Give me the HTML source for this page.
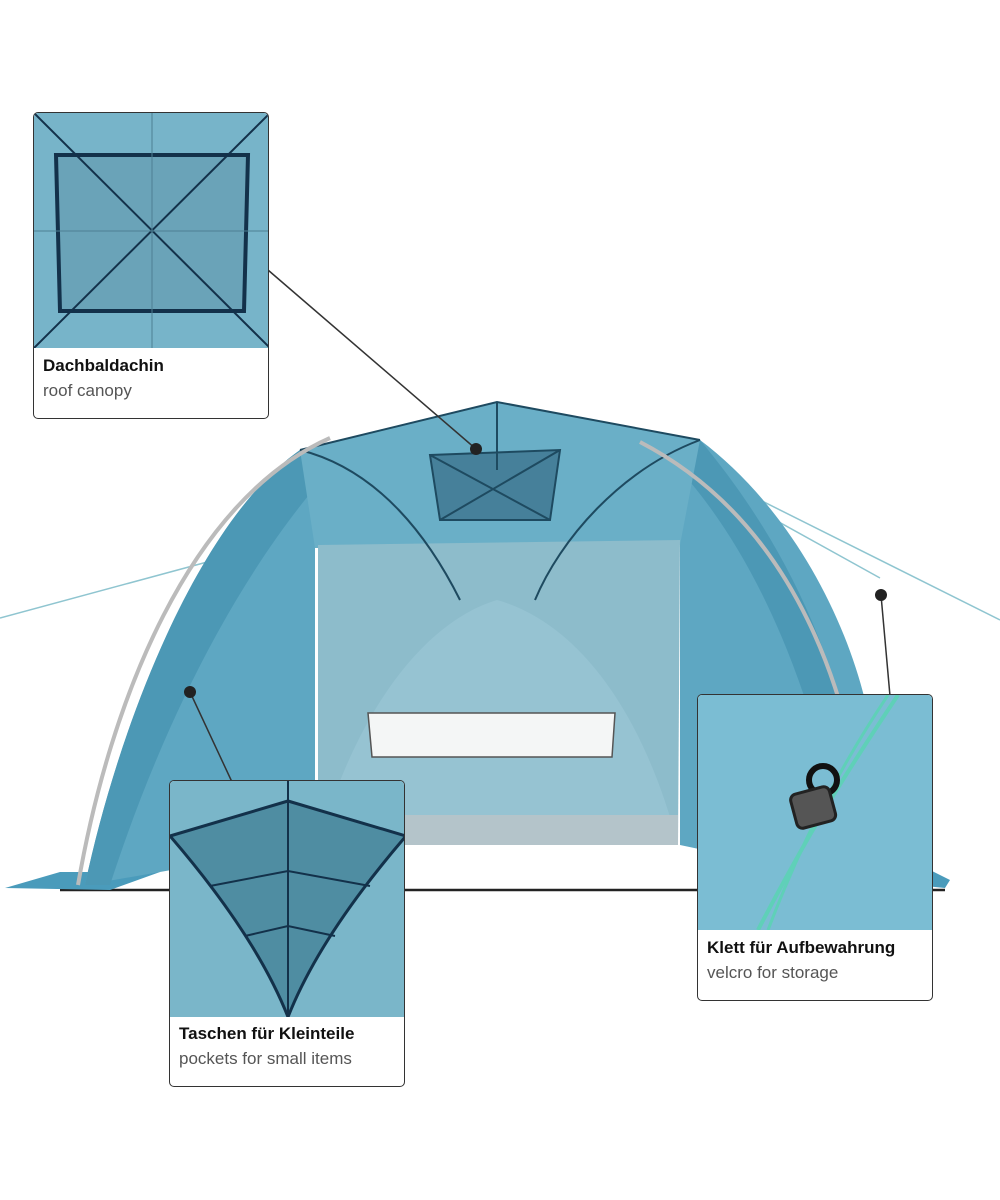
<!DOCTYPE html>
<html><head><meta charset="utf-8"><style>
html,body{margin:0;padding:0;background:#fff;}
.wrap{position:relative;width:1000px;height:1200px;overflow:hidden;font-family:"Liberation Sans",sans-serif;}
.box{position:absolute;border:1.5px solid #333;border-radius:5px;background:#fff;overflow:hidden;box-sizing:border-box;}
.box svg{display:block}
.t1{position:absolute;left:9px;font-weight:bold;font-size:17px;color:#111;}
.t2{position:absolute;left:9px;font-size:17px;color:#555;}
</style></head><body><div class="wrap">
<svg width="1000" height="1200" style="position:absolute;left:0;top:0">
  <!-- guy lines -->
  <line x1="0" y1="618" x2="270" y2="545" stroke="#8fc5d0" stroke-width="1.5"/>
  <line x1="740" y1="490" x2="1000" y2="620" stroke="#8fc5d0" stroke-width="1.5"/>
  <line x1="640" y1="445" x2="880" y2="578" stroke="#8fc5d0" stroke-width="1.5"/>
  <!-- ground -->
  <line x1="60" y1="890" x2="945" y2="890" stroke="#222" stroke-width="2.5"/>
  <polygon points="5,888 60,872 160,872 110,890" fill="#4a9bbb"/>
  <polygon points="930,870 950,880 945,888 925,886" fill="#4a9bbb"/>
  <!-- outer canopy -->
  <path d="M85,885 C120,720 200,520 300,450 L497,402 L700,440 C780,500 840,600 865,700 L870,885 L680,845 L680,540 L315,545 L315,845 Z" fill="#5ea7c2"/>
  <path d="M85,885 C120,720 200,520 300,450 L330,470 C250,560 170,700 110,885 Z" fill="#4c98b5"/>
  <path d="M870,885 C860,700 800,560 700,440 L680,470 C760,560 820,700 850,885 Z" fill="#4c98b5"/>
  <!-- front roof panel -->
  <path d="M300,450 L497,402 L700,440 L680,545 L315,548 Z" fill="#6aafc7"/>
  <!-- back wall -->
  <polygon points="318,545 680,540 678,845 318,845" fill="#8dbccb"/>
  <path d="M318,845 C360,700 430,620 497,600 C570,620 640,700 678,845 Z" fill="#96c3d2"/>
  <polygon points="318,815 678,815 678,845 318,845" fill="#b4c4ca"/>
  <!-- roof canopy pocket -->
  <polygon points="430,455 560,450 550,520 440,520" fill="#46809a"/>
  <g stroke="#1e4a60" stroke-width="2" fill="none">
    <path d="M300,450 L497,402 L700,440"/>
    <path d="M497,402 L497,470 M430,455 L560,450 L550,520 L440,520 Z M430,455 L550,520 M560,450 L440,520"/>
    <path d="M300,450 C380,470 430,540 460,600"/>
    <path d="M700,440 C620,470 560,540 535,600"/>
  </g>
  <!-- poles -->
  <path d="M78,885 C110,700 190,500 330,438" stroke="#bbb" stroke-width="4" fill="none"/>
  <path d="M870,885 C860,690 790,520 640,442" stroke="#bbb" stroke-width="4" fill="none"/>
  <!-- window -->
  <polygon points="368,713 615,713 612,757 372,757" fill="#f4f6f6" stroke="#555" stroke-width="1.5"/>
  <!-- connectors -->
  <line x1="268" y1="270" x2="476" y2="449" stroke="#333" stroke-width="1.5"/>
  <circle cx="476" cy="449" r="6" fill="#222"/>
  <line x1="190" y1="692" x2="232" y2="782" stroke="#333" stroke-width="1.5"/>
  <circle cx="190" cy="692" r="6" fill="#222"/>
  <line x1="881" y1="595" x2="890" y2="696" stroke="#333" stroke-width="1.5"/>
  <circle cx="881" cy="595" r="6" fill="#222"/>
</svg>

<div class="box" style="left:33px;top:112px;width:236px;height:307px">
  <svg width="236" height="235"><rect width="236" height="235" fill="#77b4c9"/>
  <polygon points="22,42 214,42 210,198 26,198" fill="#6aa3b8" stroke="#13314a" stroke-width="4"/>
  <g stroke="#13314a" stroke-width="2"><line x1="0" y1="0" x2="236" y2="235"/><line x1="236" y1="0" x2="0" y2="235"/><line x1="118" y1="0" x2="118" y2="235" stroke-width="1" stroke="#4d7f93"/><line x1="0" y1="118" x2="236" y2="118" stroke-width="1" stroke="#4d7f93"/></g>
  </svg>
  <div class="t1" style="top:243px">Dachbaldachin</div>
  <div class="t2" style="top:268px">roof canopy</div>
</div>

<div class="box" style="left:169px;top:780px;width:236px;height:307px">
  <svg width="236" height="236"><rect width="236" height="236" fill="#7ab6c9"/>
  <path d="M0,55 L118,20 L236,55 C180,120 140,180 118,236 C96,180 56,120 0,55 Z" fill="#4f8da2" stroke="#13314a" stroke-width="3"/>
  <path d="M40,105 L118,90 L200,105 M75,155 L118,145 L165,155" stroke="#13314a" stroke-width="2" fill="none"/>
  <line x1="118" y1="0" x2="118" y2="236" stroke="#13314a" stroke-width="2"/>
  </svg>
  <div class="t1" style="top:243px">Taschen für Kleinteile</div>
  <div class="t2" style="top:268px">pockets for small items</div>
</div>

<div class="box" style="left:697px;top:694px;width:236px;height:307px">
  <svg width="236" height="235"><rect width="236" height="235" fill="#7bbdd3"/>
  <path d="M200,0 C160,60 120,120 60,235" stroke="#5fd0b8" stroke-width="4" fill="none"/>
  <path d="M190,0 C150,60 110,130 70,235" stroke="#5fd0b8" stroke-width="3" fill="none"/>
  <circle cx="125" cy="85" r="14" fill="none" stroke="#111" stroke-width="6"/>
  <rect x="95" y="95" width="40" height="35" rx="6" fill="#555" stroke="#222" stroke-width="3" transform="rotate(-15 115 112)"/>
  </svg>
  <div class="t1" style="top:243px">Klett für Aufbewahrung</div>
  <div class="t2" style="top:268px">velcro for storage</div>
</div>
</div></body></html>
